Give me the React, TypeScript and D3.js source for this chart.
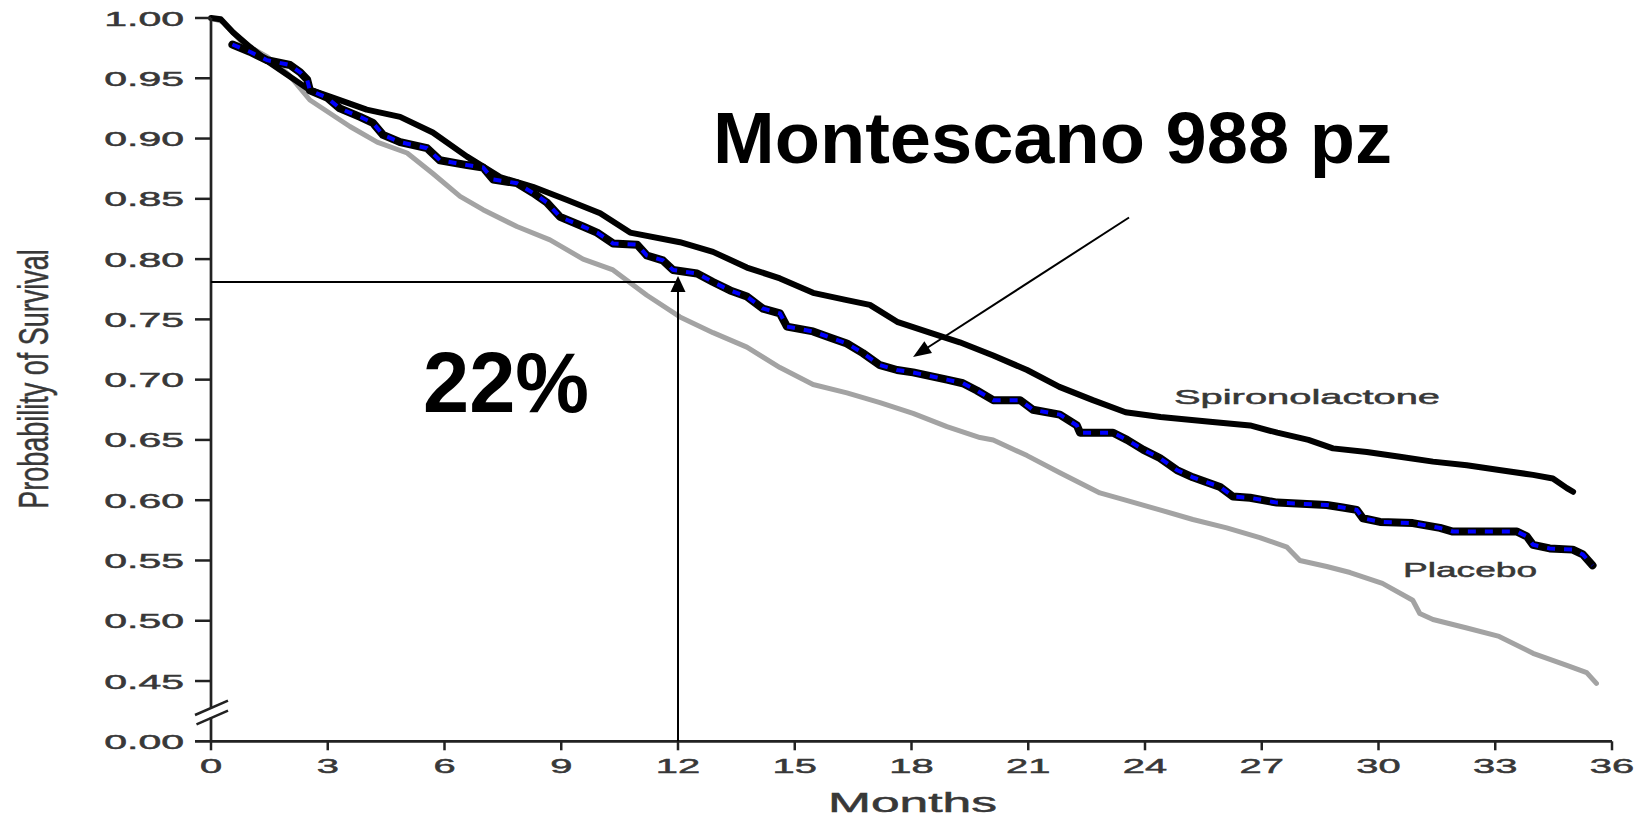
import React from 'react';
import * as d3 from 'd3';

// ---- data ----
const spiroMonths = [0, 0.25, 0.57, 1.0, 1.5, 2.0, 2.5, 3.13, 4.0, 4.86, 5.7, 6.58, 7.43, 8.27, 9.15, 10.0, 10.77, 12.05, 12.9, 13.77, 14.62, 15.47, 16.34, 16.93, 17.63, 18.47, 19.24, 20.1, 20.97, 21.8, 22.66, 23.5, 24.4, 25.67, 26.7, 27.4, 28.2, 28.83, 29.7, 30.55, 31.4, 32.27, 33.1, 33.97, 34.48, 34.84, 35.0];
const spiroSurv = [1.0, 0.999, 0.988, 0.976, 0.963, 0.952, 0.941, 0.934, 0.924, 0.918, 0.905, 0.885, 0.868, 0.86, 0.849, 0.838, 0.822, 0.814, 0.806, 0.793, 0.784, 0.772, 0.766, 0.762, 0.748, 0.739, 0.731, 0.72, 0.708, 0.694, 0.683, 0.673, 0.669, 0.665, 0.662, 0.656, 0.65, 0.643, 0.64, 0.636, 0.632, 0.629, 0.625, 0.621, 0.618, 0.61, 0.607];

const placeboMonths = [0, 0.3, 0.82, 1.44, 2.0, 2.54, 3.57, 4.27, 5.04, 5.7, 6.4, 6.99, 7.86, 8.71, 9.56, 10.33, 11.2, 12.05, 12.9, 13.77, 14.62, 15.47, 16.34, 17.19, 18.04, 18.91, 19.76, 20.1, 20.97, 21.8, 22.84, 23.5, 24.38, 25.23, 26.1, 26.95, 27.65, 27.98, 28.67, 29.27, 30.1, 30.88, 31.06, 31.4, 32.27, 33.1, 33.97, 34.84, 35.35, 35.6];
const placeboSurv = [1.0, 0.997, 0.979, 0.968, 0.953, 0.932, 0.91, 0.897, 0.888, 0.871, 0.852, 0.841, 0.827, 0.816, 0.8, 0.791, 0.77, 0.752, 0.739, 0.727, 0.71, 0.696, 0.689, 0.681, 0.672, 0.661, 0.652, 0.65, 0.637, 0.623, 0.606, 0.6, 0.592, 0.584, 0.577, 0.569, 0.561, 0.55, 0.545, 0.54, 0.531, 0.517, 0.506, 0.501, 0.494, 0.487, 0.473, 0.463, 0.457, 0.448];

const montMonths = [0.55, 1.0, 1.44, 2.03, 2.29, 2.47, 2.54, 2.98, 3.31, 3.83, 4.16, 4.42, 4.86, 5.55, 5.88, 6.58, 6.99, 7.25, 7.86, 8.27, 8.63, 8.97, 9.56, 9.92, 10.33, 10.95, 11.2, 11.61, 11.87, 12.49, 12.9, 13.34, 13.77, 14.18, 14.62, 14.8, 15.47, 15.9, 16.34, 16.75, 17.19, 17.63, 18.04, 18.91, 19.32, 19.68, 20.1, 20.79, 21.12, 21.81, 22.25, 22.33, 23.18, 23.54, 23.95, 24.38, 24.82, 25.23, 25.93, 26.26, 26.7, 27.39, 28.67, 29.08, 29.44, 29.6, 30.04, 30.88, 31.58, 31.91, 33.56, 33.81, 33.97, 34.4, 34.99, 35.25, 35.5];
const montSurv = [0.978, 0.972, 0.965, 0.961, 0.955, 0.949, 0.94, 0.934, 0.925, 0.918, 0.913, 0.903, 0.897, 0.892, 0.882, 0.878, 0.876, 0.866, 0.863, 0.855, 0.847, 0.835, 0.827, 0.822, 0.813, 0.812, 0.803, 0.799, 0.791, 0.788, 0.781, 0.774, 0.769, 0.759, 0.755, 0.744, 0.74, 0.735, 0.73, 0.722, 0.712, 0.708, 0.706, 0.7, 0.697, 0.691, 0.683, 0.683, 0.675, 0.671, 0.662, 0.656, 0.656, 0.65, 0.642, 0.635, 0.625, 0.619, 0.611, 0.603, 0.602, 0.598, 0.596, 0.594, 0.592, 0.585, 0.582, 0.581, 0.577, 0.574, 0.574, 0.57, 0.563, 0.56, 0.559, 0.555, 0.546];

const yTickValues = [1.0, 0.95, 0.9, 0.85, 0.8, 0.75, 0.7, 0.65, 0.6, 0.55, 0.5, 0.45];
const yBreakLabel = '0.00';
const yBreakPos = 0.4; // 0.00 drawn below the axis break
const xTickValues = [0, 3, 6, 9, 12, 15, 18, 21, 24, 27, 30, 33, 36];

const markMonth = 12;
const markSurv = 0.781;
const arrowFrom = [23.59, 0.8345];
const arrowTo = [18.04, 0.7188];

const FONT = '"Liberation Sans", Arial, Helvetica, sans-serif';
const TXT = '#383838';

function head(tipX: number, tipY: number, fromX: number, fromY: number, L: number, W: number) {
  const dx = tipX - fromX, dy = tipY - fromY;
  const len = Math.hypot(dx, dy);
  const ux = dx / len, uy = dy / len;
  const nx = -uy, ny = ux;
  const bx = tipX - ux * L, by = tipY - uy * L;
  return `${tipX},${tipY} ${bx + nx * W},${by + ny * W} ${bx - nx * W},${by - ny * W}`;
}

export default function App() {
  const x = d3.scaleLinear().domain([0, 36]).range([211, 1612]);
  const y = d3.scaleLinear().domain([0.4, 1.0]).range([741.3, 18]);
  const line = d3.line<[number, number]>().x(d => x(d[0])).y(d => y(d[1]));

  const spiro = line(spiroMonths.map((m, i) => [m, spiroSurv[i]] as [number, number])) || '';
  const placebo = line(placeboMonths.map((m, i) => [m, placeboSurv[i]] as [number, number])) || '';
  const mont = line(montMonths.map((m, i) => [m, montSurv[i]] as [number, number])) || '';

  const axisX = x(0);
  const axisY = y(yBreakPos);
  const breakTop = 708;
  const breakBot = 717.5;

  const a1x = x(arrowFrom[0]), a1y = y(arrowFrom[1]);
  const a2x = x(arrowTo[0]), a2y = y(arrowTo[1]);
  const vx = x(markMonth);
  const vTip = y(0.786);

  const tickText = { fontFamily: FONT, fontSize: 21, fill: TXT, stroke: TXT, strokeWidth: 0.5 } as const;

  return (
    <svg width={1647} height={819} style={{ position: 'absolute', left: 0, top: 0, background: '#fff' }}>
      <rect x={0} y={0} width={1647} height={819} fill="#fff" />
      {/* curves */}
      <path d={placebo} fill="none" stroke="#a3a3a3" strokeWidth={5} strokeLinejoin="round" strokeLinecap="round" />
      <path d={spiro} fill="none" stroke="#000" strokeWidth={6} strokeLinejoin="round" strokeLinecap="round" />
      <path d={mont} fill="none" stroke="#000" strokeWidth={8} strokeLinejoin="round" strokeLinecap="round" />
      <path d={mont} fill="none" stroke="#0000ff" strokeWidth={4} strokeDasharray="8 9" />

      {/* y axis */}
      <line x1={axisX} x2={axisX} y1={y(1.0)} y2={breakTop} stroke="#222" strokeWidth={2.7} />
      <line x1={axisX} x2={axisX} y1={breakBot} y2={axisY} stroke="#222" strokeWidth={2.7} />
      <line x1={195} y1={715} x2={228} y2={700.7} stroke="#222" strokeWidth={2.5} />
      <line x1={196.5} y1={724.3} x2={228} y2={710.7} stroke="#222" strokeWidth={2.5} />
      {yTickValues.map(v => (
        <g key={v}>
          <line x1={195} x2={axisX} y1={y(v)} y2={y(v)} stroke="#222" strokeWidth={2.5} />
          <text transform={`translate(184,${y(v) + 7.5}) scale(1.95,1)`} textAnchor="end" {...tickText}>{v.toFixed(2)}</text>
        </g>
      ))}
      <text transform={`translate(184,${axisY + 7.5}) scale(1.95,1)`} textAnchor="end" {...tickText}>{yBreakLabel}</text>

      {/* x axis */}
      <line x1={195} x2={x(36)} y1={axisY} y2={axisY} stroke="#222" strokeWidth={2.7} />
      {xTickValues.map(m => (
        <g key={m}>
          <line x1={x(m)} x2={x(m)} y1={axisY} y2={axisY + 9} stroke="#222" strokeWidth={2.5} />
          <text transform={`translate(${x(m)},773) scale(1.9,1)`} textAnchor="middle" {...tickText}>{m}</text>
        </g>
      ))}
      <text x={828} y={812} textLength={169} lengthAdjust="spacingAndGlyphs" fontFamily={FONT} fontSize={27} fill={TXT} stroke={TXT} strokeWidth={0.5}>Months</text>
      <text transform="translate(48,379) scale(1.6,1) rotate(-90)" textAnchor="middle" fontFamily={FONT} fontSize={27} fill={TXT} stroke={TXT} strokeWidth={0.3}>Probability of Survival</text>

      {/* series labels */}
      <text x={1174} y={404} textLength={266} lengthAdjust="spacingAndGlyphs" {...tickText}>Spironolactone</text>
      <text x={1403} y={577} textLength={134} lengthAdjust="spacingAndGlyphs" {...tickText}>Placebo</text>

      {/* 12-month annotation */}
      <line x1={axisX} x2={vx} y1={y(markSurv)} y2={y(markSurv)} stroke="#000" strokeWidth={2} />
      <line x1={vx} x2={vx} y1={axisY} y2={vTip + 10} stroke="#000" strokeWidth={2} />
      <polygon points={head(vx, vTip, vx, axisY, 16, 7.5)} fill="#000" />

      {/* Montescano arrow */}
      <line x1={a1x} y1={a1y} x2={a2x + (a1x - a2x) * 0.05} y2={a2y + (a1y - a2y) * 0.05} stroke="#000" strokeWidth={2} />
      <polygon points={head(a2x, a2y, a1x, a1y, 18, 7)} fill="#000" />

      <text x={713} y={163} textLength={679} lengthAdjust="spacingAndGlyphs" fontFamily={FONT} fontWeight="bold" fontSize={72} fill="#000">Montescano 988 pz</text>
      <text x={423} y={412} textLength={166} lengthAdjust="spacingAndGlyphs" fontFamily={FONT} fontWeight="bold" fontSize={85} fill="#000">22%</text>
    </svg>
  );
}
